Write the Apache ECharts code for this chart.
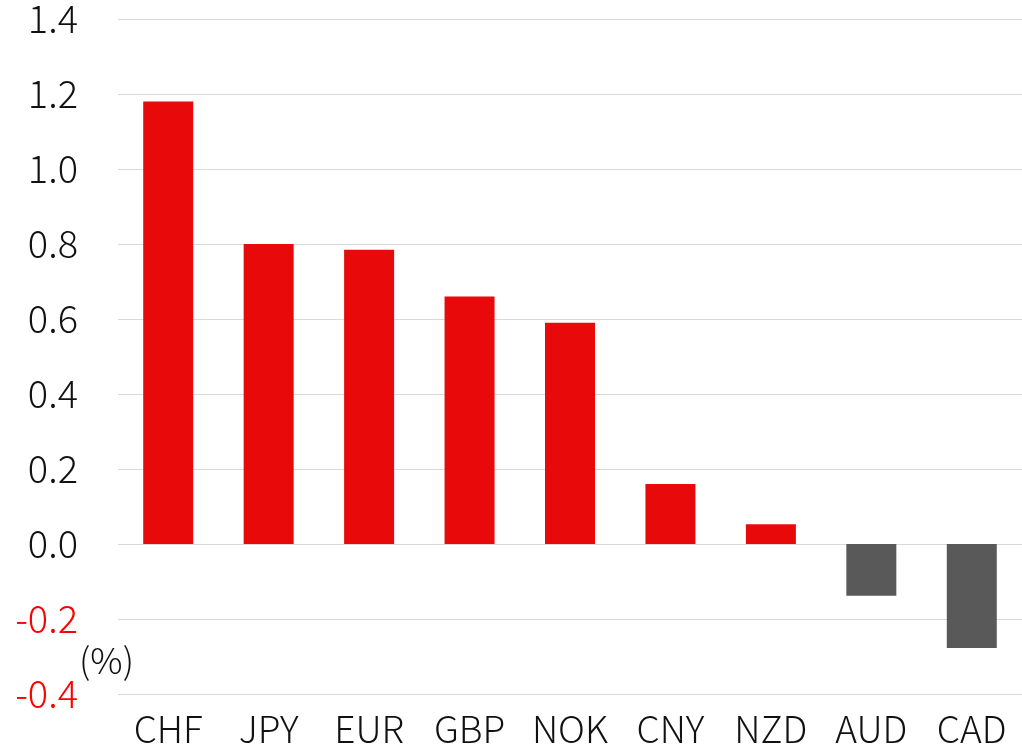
<!DOCTYPE html>
<html><head><meta charset="utf-8">
<script src="https://cdn.jsdelivr.net/npm/echarts@6/dist/echarts.min.js"></script>
<style>html,body{margin:0;padding:0;background:#fff}#c{width:1022px;height:751px}</style>
</head><body><div id="c"></div>
<script>
const categories = ['CHF','JPY','EUR','GBP','NOK','CNY','NZD','AUD','CAD'];
const values = [1.18, 0.80, 0.785, 0.66, 0.59, 0.16, 0.053, -0.138, -0.277];
const posColor = '#e8090a';
const negColor = '#595959';
const FONT = '"Noto Sans CJK JP", "Noto Sans", sans-serif';
const chart = echarts.init(document.getElementById('c'));
chart.setOption({
  animation: false,
  grid: {left: 118, right: 0, top: 18, bottom: 57, containLabel: false},
  xAxis: {
    type: 'category', data: categories,
    axisLine: {show: false}, axisTick: {show: false},
    axisLabel: {fontSize: 37, fontWeight: 300, color: '#111', margin: 16, fontFamily: FONT}
  },
  yAxis: {
    type: 'value', min: -0.4, max: 1.4, interval: 0.2,
    axisLine: {show: false}, axisTick: {show: false},
    splitLine: {lineStyle: {color: '#d9d9d9', width: 1}},
    axisLabel: {
      fontSize: 38, fontWeight: 300, margin: 40, fontFamily: FONT,
      formatter: v => v.toFixed(1),
      color: v => v < 0 ? '#ff0000' : '#111'
    }
  },
  series: [{
    type: 'bar', barWidth: 50,
    data: values.map(v => ({value: v, itemStyle: {color: v >= 0 ? posColor : negColor}}))
  }],
  graphic: [{
    type: 'text', left: 79, top: 642,
    style: {text: '(%)', font: '300 36px ' + FONT, fill: '#111'}
  }]
});
</script></body></html>
